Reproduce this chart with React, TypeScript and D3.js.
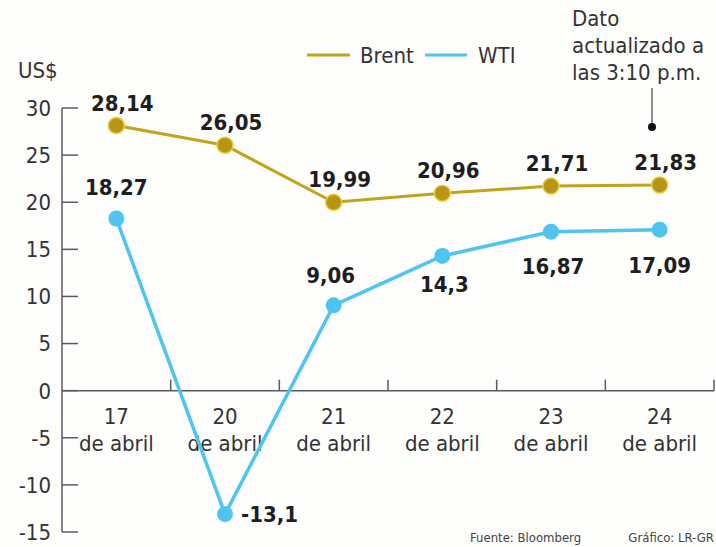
import React from "react";
import * as d3 from "d3";

const categories = ["17", "20", "21", "22", "23", "24"];
const brent = [28.14, 26.05, 19.99, 20.96, 21.71, 21.83];
const wti = [18.27, -13.1, 9.06, 14.3, 16.87, 17.09];
const brentLabels = ["28,14", "26,05", "19,99", "20,96", "21,71", "21,83"];
const wtiLabels = ["18,27", "-13,1", "9,06", "14,3", "16,87", "17,09"];
const yTicks = [30, 25, 20, 15, 10, 5, 0, -5, -10, -15];

const W = 716;
const H = 547;
const FONT = "'Liberation Sans Narrow', 'DejaVu Sans Condensed', 'Open Sans', sans-serif";
const BRENT = "#c2a31d";
const BRENT_DOT = "#b89417";
const WTI = "#4fc4ee";
const TEXT = "#1e1e1e";
const AXIS = "#5a5a66";

export default function App() {
  const x = d3.scaleBand<string>().domain(categories).range([62, 714]).padding(0);
  const y = d3.scaleLinear().domain([-15, 30]).range([532, 108]);
  const cx = (c: string) => (x(c) as number) + x.bandwidth() / 2;

  const line = d3
    .line<number>()
    .x((_, i) => cx(categories[i]))
    .y((d) => y(d));

  // label offsets for WTI: [dx, dy, anchor]
  const wtiPos: [number, number, string][] = [
    [0, -24, "middle"],
    [16, 8, "start"],
    [-3, -22, "middle"],
    [2, 36, "middle"],
    [2, 42, "middle"],
    [0, 43, "middle"],
  ];

  return (
    <svg
      width={W}
      height={H}
      style={{ position: "absolute", left: 0, top: 0, background: "#fdfdfb" }}
      fontFamily={FONT}
    >
      {/* Y axis */}
      <line x1={62} x2={62} y1={y(30)} y2={y(-15)} stroke={AXIS} strokeWidth={1.5} />
      {yTicks.map((t) => (
        <g key={t}>
          <line x1={62} x2={78} y1={y(t)} y2={y(t)} stroke={AXIS} strokeWidth={1.5} />
          <text
            x={51}
            y={y(t)}
            dy="0.36em"
            textAnchor="end"
            fontSize={22}
            fill="#333"
          >
            {t}
          </text>
        </g>
      ))}
      {/* X axis at zero */}
      <line x1={62} x2={714} y1={y(0)} y2={y(0)} stroke={AXIS} strokeWidth={1.5} />
      {categories.map((c) => (
        <line
          key={"t" + c}
          x1={(x(c) as number) + x.bandwidth()}
          x2={(x(c) as number) + x.bandwidth()}
          y1={y(0)}
          y2={y(0) - 11}
          stroke={AXIS}
          strokeWidth={1.5}
        />
      ))}
      {categories.map((c) => (
        <text key={"l" + c} x={cx(c)} textAnchor="middle" fontSize={22} fill="#333">
          <tspan x={cx(c)} y={424}>{c}</tspan>
          <tspan x={cx(c)} y={451}>de abril</tspan>
        </text>
      ))}

      <text x={18} y={78} fontSize={22} fill="#333">US$</text>

      {/* Legend */}
      <line x1={307} x2={350} y1={55} y2={55} stroke={BRENT} strokeWidth={3} />
      <text x={360} y={63} fontSize={22} fill="#333">Brent</text>
      <line x1={425} x2={467} y1={55} y2={55} stroke={WTI} strokeWidth={3} />
      <text x={478} y={63} fontSize={22} fill="#333">WTI</text>

      {/* Annotation */}
      <text fontSize={22} fill="#333">
        <tspan x={572} y={26}>Dato</tspan>
        <tspan x={572} y={53}>actualizado a</tspan>
        <tspan x={572} y={80}>las 3:10 p.m.</tspan>
      </text>
      <line x1={652} x2={652} y1={88} y2={126} stroke="#222" strokeWidth={1} />
      <circle cx={652} cy={127} r={4} fill="#111" />

      {/* Lines */}
      <path d={line(brent) || ""} fill="none" stroke={BRENT} strokeWidth={3} />
      <path d={line(wti) || ""} fill="none" stroke={WTI} strokeWidth={3.5} />
      {brent.map((v, i) => (
        <circle key={"bd" + i} cx={cx(categories[i])} cy={y(v)} r={8} fill={BRENT_DOT} stroke="#e6cf3a" strokeWidth={1.5} />
      ))}
      {wti.map((v, i) => (
        <circle key={"wd" + i} cx={cx(categories[i])} cy={y(v)} r={8} fill={WTI} />
      ))}

      {/* Value labels */}
      {brent.map((v, i) => (
        <text
          key={"bl" + i}
          x={cx(categories[i]) + 6}
          y={y(v) - 15}
          textAnchor="middle"
          fontSize={22}
          fontWeight="bold"
          fill={TEXT}
        >
          {brentLabels[i]}
        </text>
      ))}
      {wti.map((v, i) => (
        <text
          key={"wl" + i}
          x={cx(categories[i]) + wtiPos[i][0]}
          y={y(v) + wtiPos[i][1]}
          textAnchor={wtiPos[i][2] as any}
          fontSize={22}
          fontWeight="bold"
          fill={TEXT}
        >
          {wtiLabels[i]}
        </text>
      ))}

      {/* Footer */}
      <text x={470} y={542} fontSize={13} fill="#444">Fuente: Bloomberg</text>
      <text x={714} y={542} fontSize={13} fill="#444" textAnchor="end">Gráfico: LR-GR</text>
    </svg>
  );
}
